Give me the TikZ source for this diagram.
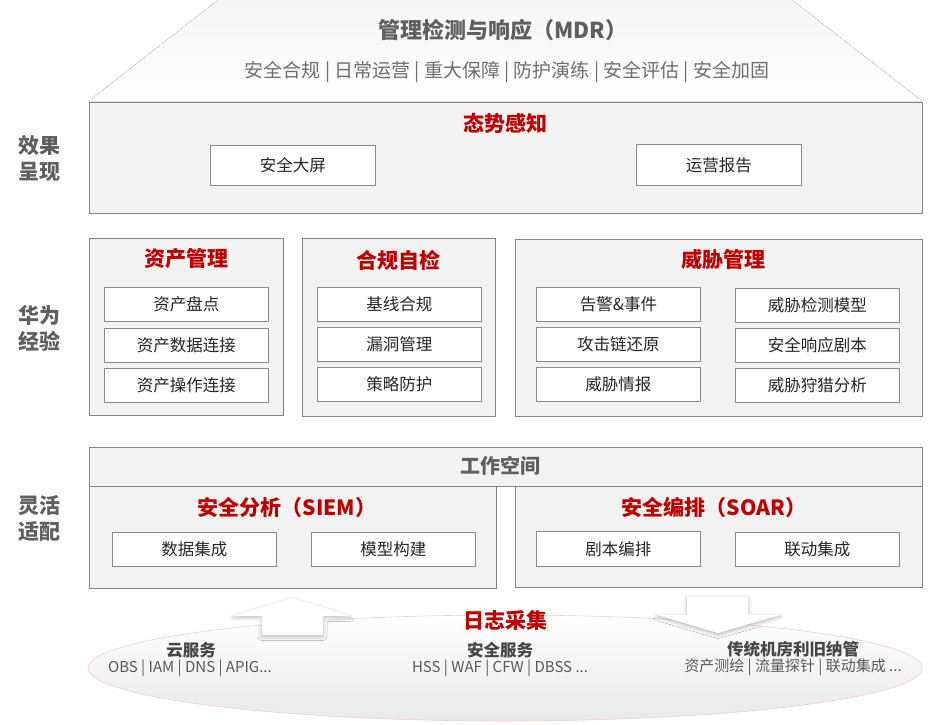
\documentclass[tikz,border=0pt]{standalone}
\usepackage{fontspec}
\setmainfont{Noto Sans CJK SC}
\usetikzlibrary{shadows.blur,shapes.geometric}
\definecolor{hwred}{HTML}{C00000}
\definecolor{boxfill}{HTML}{F2F2F2}
\definecolor{boxline}{HTML}{858585}
\definecolor{itemline}{HTML}{8A8A8A}
\definecolor{sidegray}{HTML}{5F5F5F}
\definecolor{subgray}{HTML}{6E6E6E}
\definecolor{pinkline}{HTML}{F6CACA}
\begin{document}
\begin{tikzpicture}[x=1pt,y=-1pt,
  grp/.style={draw=boxline, fill=boxfill, line width=1pt, anchor=north west, inner sep=0pt},
  itembox/.style={draw=itemline, fill=white, line width=0.9pt, anchor=north west, inner sep=0pt,
    minimum width=164pt, minimum height=34pt, font=\fontsize{16.5}{18}\selectfont, text=black!85},
  ttl/.style={font=\bfseries\fontsize{21}{24}\selectfont, text=hwred},
  side/.style={font=\bfseries\fontsize{21}{26}\selectfont, text=sidegray, align=center},
  srcttl/.style={font=\bfseries\fontsize{16.5}{18}\selectfont, text=black!72},
  srcsub/.style={font=\fontsize{15}{17}\selectfont, text=black!65},
  blockarrow/.style={fill=white, draw=none, blur shadow={shadow xshift=0pt, shadow yshift=-1.5pt, shadow blur radius=4pt, shadow opacity=30}}
]
\useasboundingbox (0,0) rectangle (942,724);

% top trapezoid
\fill[top color=gray!8, middle color=gray!13, bottom color=white]
  (218,0) -- (792,0) -- (922,101) -- (89,101) -- cycle;
\node[font=\bfseries\fontsize{22}{26}\selectfont, text=sidegray] (mdr) at (503,30) {管理检测与响应（MDR）};
\node[font=\fontsize{19}{22}\selectfont, text=subgray] (mdrsub) at (507,72) {安全合规 | 日常运营 | 重大保障 | 防护演练 | 安全评估 | 安全加固};

% side labels
\node[side] (s1) at (39,158) {效果\\呈现};
\node[side] (s2) at (39,328) {华为\\经验};
\node[side] (s3) at (39,518) {灵活\\适配};

% situation awareness
\node[grp, minimum width=833pt, minimum height=111pt] (sa) at (89,102) {};
\node[ttl] (sat) at (505,123) {态势感知};
\node[itembox, minimum width=165pt, minimum height=40pt] (sa1) at (210,145) {安全大屏};
\node[itembox, minimum width=165pt, minimum height=41pt] (sa2) at (636,144) {运营报告};

% asset management
\node[grp, minimum width=194pt, minimum height=177pt] (am) at (89,238) {};
\node[ttl] (amt) at (186,259) {资产管理};
\node[itembox] (am1) at (104,287) {资产盘点};
\node[itembox] (am2) at (104,328) {资产数据连接};
\node[itembox] (am3) at (104,368) {资产操作连接};

% compliance
\node[grp, minimum width=193pt, minimum height=178pt] (cp) at (302,238) {};
\node[ttl] (cpt) at (398,260) {合规自检};
\node[itembox] (cp1) at (317,287) {基线合规};
\node[itembox] (cp2) at (317,327) {漏洞管理};
\node[itembox] (cp3) at (317,367) {策略防护};

% threat management
\node[grp, minimum width=407pt, minimum height=177pt] (tm) at (515,239) {};
\node[ttl] (tmt) at (723,259) {威胁管理};
\node[itembox] (tm1) at (536,287) {告警\&事件};
\node[itembox] (tm2) at (536,327) {攻击链还原};
\node[itembox] (tm3) at (536,367) {威胁情报};
\node[itembox] (tm4) at (735,288) {威胁检测模型};
\node[itembox] (tm5) at (735,328) {安全响应剧本};
\node[itembox] (tm6) at (735,368) {威胁狩猎分析};

% workspace
\node[grp, minimum width=833pt, minimum height=39pt] (ws) at (89,447) {};
\node[font=\bfseries\fontsize{20}{24}\selectfont, text=sidegray] (wst) at (500,466) {工作空间};
\node[grp, minimum width=407pt, minimum height=102pt] (siem) at (89,486) {};
\node[grp, minimum width=407pt, minimum height=101pt] (soar) at (515,486) {};
\node[ttl] (siemt) at (287,507) {安全分析（SIEM）};
\node[ttl] (soart) at (714,507) {安全编排（SOAR）};
\node[itembox] (si1) at (112,532) {数据集成};
\node[itembox] (si2) at (311,532) {模型构建};
\node[itembox, minimum height=35pt] (so1) at (536,531) {剧本编排};
\node[itembox] (so2) at (735,532) {联动集成};

% log collection ellipse
\node[draw=pinkline, line width=0.6pt, top color=white, bottom color=gray!17, shape=ellipse,
  minimum width=834pt, minimum height=106pt, inner sep=0pt] (log) at (505,668) {};

% block arrows
\path[blockarrow] (292,598) -- (350,616) -- (323,616) -- (323,635) -- (262,635) -- (262,616) -- (233,616) -- cycle;
\path[blockarrow] (687,597) -- (748,597) -- (748,615) -- (780,615) -- (718,633) -- (657,615) -- (687,615) -- cycle;

\node[ttl] (logt) at (505,620) {日志采集};
\node[srcttl] (c1) at (191,650) {云服务};
\node[srcsub] (c1s) at (190,668) {OBS | IAM | DNS | APIG...};
\node[srcttl] (c2) at (500,650) {安全服务};
\node[srcsub] (c2s) at (500,668) {HSS | WAF | CFW | DBSS ...};
\node[srcttl] (c3) at (793,649) {传统机房利旧纳管};
\node[srcsub] (c3s) at (793,667) {资产测绘 | 流量探针 | 联动集成 ...};
\end{tikzpicture}
\end{document}
